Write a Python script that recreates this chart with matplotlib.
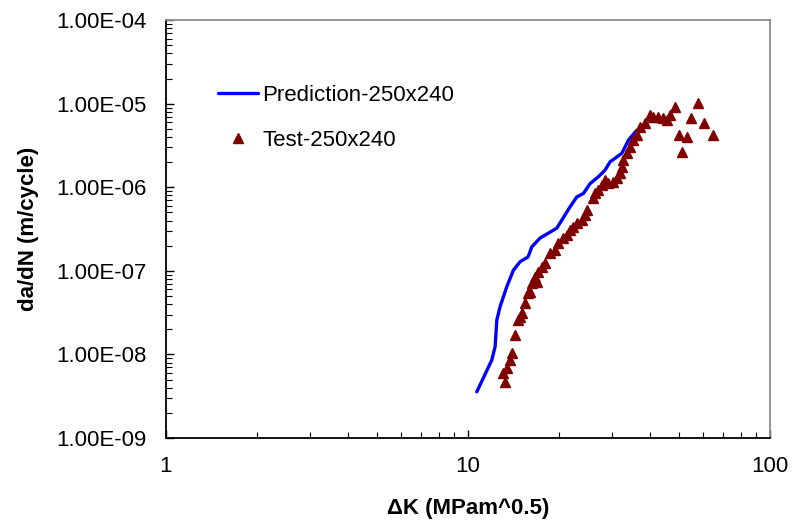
"""
Crack growth rate: prediction vs test (250x240)
"""
import numpy as np
import matplotlib
matplotlib.use("Agg")
import matplotlib.pyplot as plt
from matplotlib.ticker import FuncFormatter, LogLocator, NullFormatter

plt.rcParams['font.family'] = ['Liberation Sans', 'DejaVu Sans']

## Prediction curve
pred_dk = [10.69, 11.98, 12.29, 12.45, 12.76, 13.43, 14.13, 14.87, 15.80, 16.25,
           17.31, 19.67, 20.43, 21.76, 22.91, 24.09, 25.35, 27.01, 28.41, 29.52,
           32.28, 33.95, 36.20]
pred_rate = [3.58e-9, 8.57e-9, 1.24e-8, 2.58e-8, 3.72e-8, 6.46e-8, 1.02e-7, 1.29e-7,
             1.47e-7, 1.94e-7, 2.47e-7, 3.25e-7, 4.05e-7, 5.85e-7, 7.69e-7, 8.45e-7,
             1.11e-6, 1.34e-6, 1.61e-6, 2.02e-6, 2.55e-6, 3.67e-6, 4.83e-6]

## Test points
test_dk = [13.06, 13.26, 13.46, 13.77, 13.98, 14.30, 14.64, 14.87, 15.09, 15.44,
           15.80, 16.04, 16.29, 16.67, 16.92, 17.05, 17.58, 17.99, 18.69, 19.42,
           19.86, 20.63, 21.27, 21.76, 22.27, 22.96, 23.85, 24.40, 24.77, 25.93,
           26.33, 26.94, 27.77, 28.41, 29.07, 30.20, 31.14, 31.86, 32.35, 32.60,
           33.61, 34.39, 35.19, 36.28, 37.12, 38.56, 40.06, 40.99, 42.58, 44.23,
           45.60, 46.66, 48.46, 49.96, 51.11, 53.11, 54.75, 57.75, 60.46, 64.77]
test_rate = [6.00e-9, 4.68e-9, 6.87e-9, 8.57e-9, 1.04e-8, 1.71e-8, 2.58e-8, 2.80e-8,
             3.13e-8, 4.12e-8, 5.42e-8, 5.57e-8, 7.15e-8, 8.43e-8, 7.35e-8, 9.68e-8,
             1.11e-7, 1.24e-7, 1.63e-7, 1.77e-7, 2.15e-7, 2.47e-7, 2.68e-7, 3.08e-7,
             3.34e-7, 3.73e-7, 4.05e-7, 4.65e-7, 5.33e-7, 7.43e-7, 8.53e-7, 9.27e-7,
             1.06e-6, 1.22e-6, 1.12e-6, 1.15e-6, 1.29e-6, 1.48e-6, 1.75e-6, 2.12e-6,
             2.57e-6, 3.03e-6, 3.67e-6, 4.21e-6, 5.25e-6, 5.86e-6, 7.31e-6, 6.92e-6,
             6.92e-6, 6.73e-6, 6.37e-6, 7.31e-6, 9.10e-6, 4.21e-6, 2.64e-6, 3.98e-6,
             6.73e-6, 1.02e-5, 5.86e-6, 4.21e-6]

x_ticks = [1, 10, 100]
y_ticks = [1e-9, 1e-8, 1e-7, 1e-6, 1e-5, 1e-4]

FS = 16

fig = plt.figure(figsize=(7.94, 5.31), dpi=100)
ax = fig.add_axes([0.209, 0.175, 0.761, 0.787])

ax.plot(pred_dk, pred_rate, color='#0000FF', lw=2.4, label="Prediction-250x240",
        solid_capstyle='round', zorder=2)
ax.plot(test_dk, test_rate, ls='none', marker='^', ms=7.5, color='#800000',
        mec='#800000', label="Test-250x240", zorder=3)

ax.set_xscale('log')
ax.set_yscale('log')
ax.set_xlim(x_ticks[0], x_ticks[-1])
ax.set_ylim(y_ticks[0], y_ticks[-1])

ax.set_xticks(x_ticks)
ax.set_yticks(y_ticks)
ax.yaxis.set_minor_locator(LogLocator(base=10, subs=np.arange(2, 10), numticks=20))
ax.xaxis.set_minor_locator(LogLocator(base=10, subs=np.arange(2, 10), numticks=20))
ax.yaxis.set_major_formatter(FuncFormatter(lambda v, p: f"{v:.2E}"))
ax.yaxis.set_minor_formatter(NullFormatter())
ax.xaxis.set_major_formatter(FuncFormatter(lambda v, p: f"{v:g}"))
ax.xaxis.set_minor_formatter(NullFormatter())

ax.tick_params(which='both', direction='in', top=False, right=False, color='black')
ax.tick_params(which='major', length=6, width=1, labelsize=FS)
ax.tick_params(which='minor', length=4, width=0.8)
ax.tick_params(axis='x', which='major', pad=13)
ax.tick_params(axis='y', which='major', pad=14)

for s in ['left', 'bottom']:
    ax.spines[s].set_color('black')
    ax.spines[s].set_linewidth(1.3)
for s in ['top', 'right']:
    ax.spines[s].set_color('#8C8C8C')
    ax.spines[s].set_linewidth(1.3)

ax.set_xlabel("ΔK (MPam^0.5)", fontsize=FS, fontweight='bold', labelpad=15)
ax.set_ylabel("da/dN (m/cycle)", fontsize=FS, fontweight='bold', labelpad=12)

ax.legend(loc='upper left', bbox_to_anchor=(0.086, 0.846), frameon=False,
          fontsize=FS, numpoints=1, handlelength=1.8, handletextpad=0.2,
          labelspacing=1.1, borderpad=0, borderaxespad=0)

fig.savefig("out.png", dpi=100)
plt.close(fig)
